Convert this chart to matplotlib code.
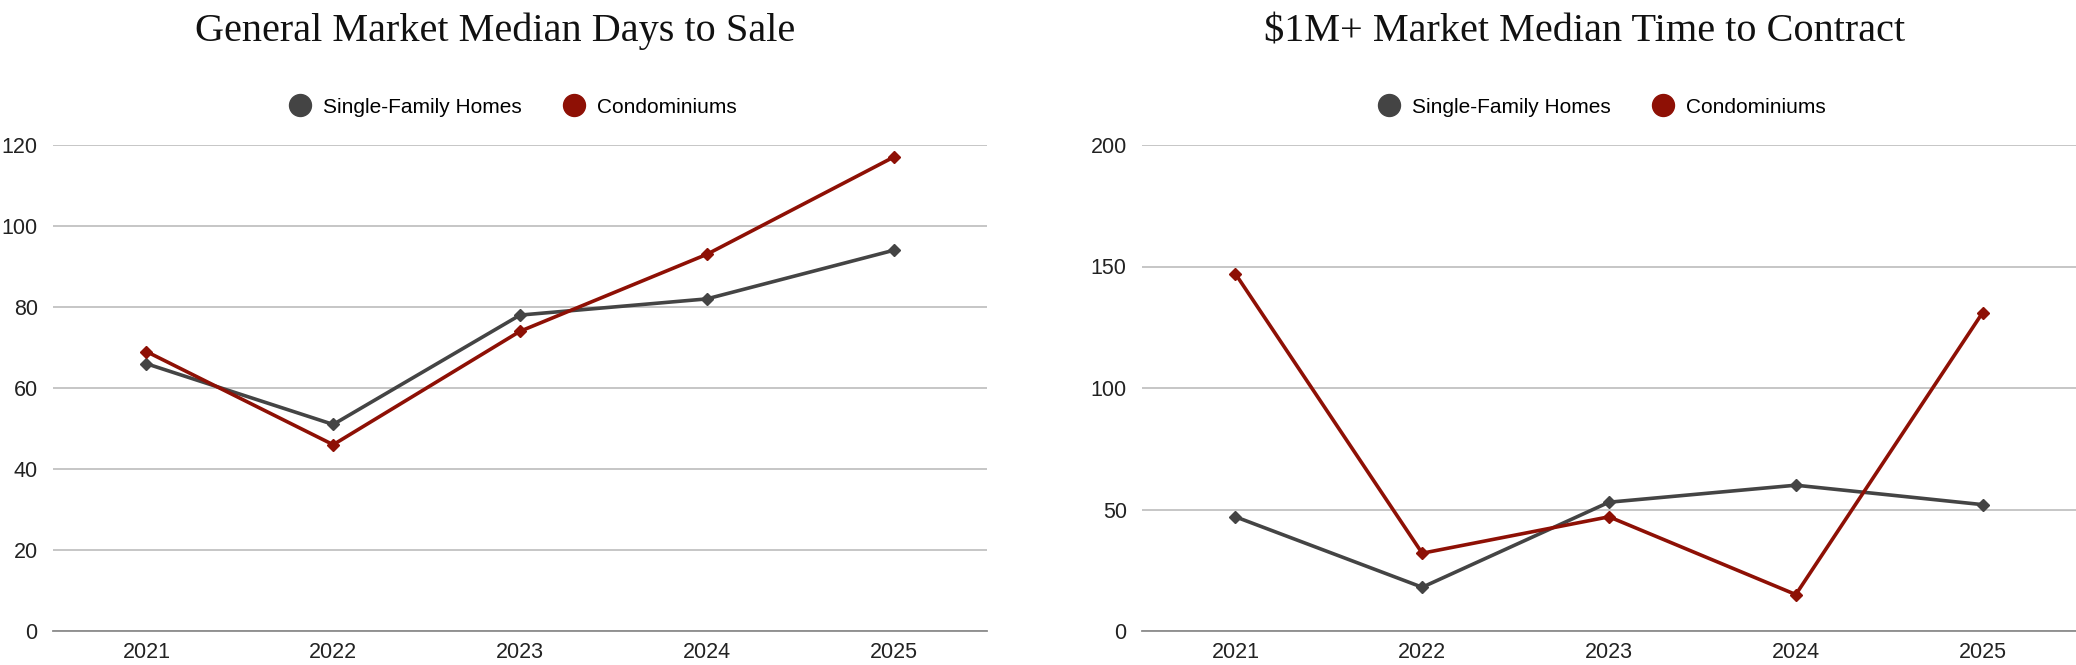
import matplotlib
matplotlib.use("Agg")
import matplotlib.pyplot as plt
from matplotlib.lines import Line2D

years = ["2021", "2022", "2023", "2024", "2025"]

# General market median days to sale
general_sfh = [66, 51, 78, 82, 94]
general_condo = [69, 46, 74, 93, 117]

# $1M+ market median time to contract
luxury_sfh = [47, 18, 53, 60, 52]
luxury_condo = [147, 32, 47, 15, 131]

titles = ["General Market Median Days to Sale", "$1M+ Market Median Time to Contract"]
series_names = ["Single-Family Homes", "Condominiums"]

GRAY = "#444444"
RED = "#8e1005"

plt.rcParams["font.family"] = ["Liberation Sans", "DejaVu Sans"]

fig = plt.figure(figsize=(20.76, 6.65), dpi=100)
ax1 = fig.add_axes([53 / 2076, 1 - 631 / 665, 934 / 2076, 486 / 665])
ax2 = fig.add_axes([1142 / 2076, 1 - 631 / 665, 934 / 2076, 486 / 665])


def draw(ax, sfh, condo, ymax, step):
    x = range(len(years))
    ax.plot(x, sfh, color=GRAY, lw=2.6, marker="D", ms=6.3, zorder=3)
    ax.plot(x, condo, color=RED, lw=2.6, marker="D", ms=6.3, zorder=4)
    ax.set_xlim(-0.5, len(years) - 0.5)
    ax.set_ylim(0, ymax)
    ax.set_xticks(list(x))
    ax.set_xticklabels(years)
    ax.set_yticks(range(0, ymax + 1, step))
    ax.grid(axis="y", color="#c2c2c2", lw=1.3)
    ax.set_axisbelow(True)
    for s in ["top", "right", "left"]:
        ax.spines[s].set_visible(False)
    ax.spines["bottom"].set_color("#8c8c8c")
    ax.spines["bottom"].set_linewidth(1.3)
    ax.tick_params(axis="both", length=0, labelsize=15.5, colors="#222222")
    ax.tick_params(axis="y", pad=11)
    ax.tick_params(axis="x", pad=8)
    handles = [
        Line2D([], [], ls="none", marker="o", ms=15.8, color=GRAY),
        Line2D([], [], ls="none", marker="o", ms=15.8, color=RED),
    ]
    ax.legend(handles, series_names, loc="center", bbox_to_anchor=(0.4925, 1.078),
              ncol=2, frameon=False, fontsize=15, handlelength=1.06,
              handletextpad=0.55, columnspacing=2.0, borderaxespad=0)


draw(ax1, general_sfh, general_condo, 120, 20)
draw(ax2, luxury_sfh, luxury_condo, 200, 50)

fig.text(495 / 2076, 1 - 41 / 665, titles[0], ha="center", va="baseline",
         fontsize=29, family="Liberation Serif", color="#111111")
fig.text(1585 / 2076, 1 - 41 / 665, titles[1], ha="center", va="baseline",
         fontsize=29, family="Liberation Serif", color="#111111")

fig.savefig("out.png", dpi=100, facecolor="white")
